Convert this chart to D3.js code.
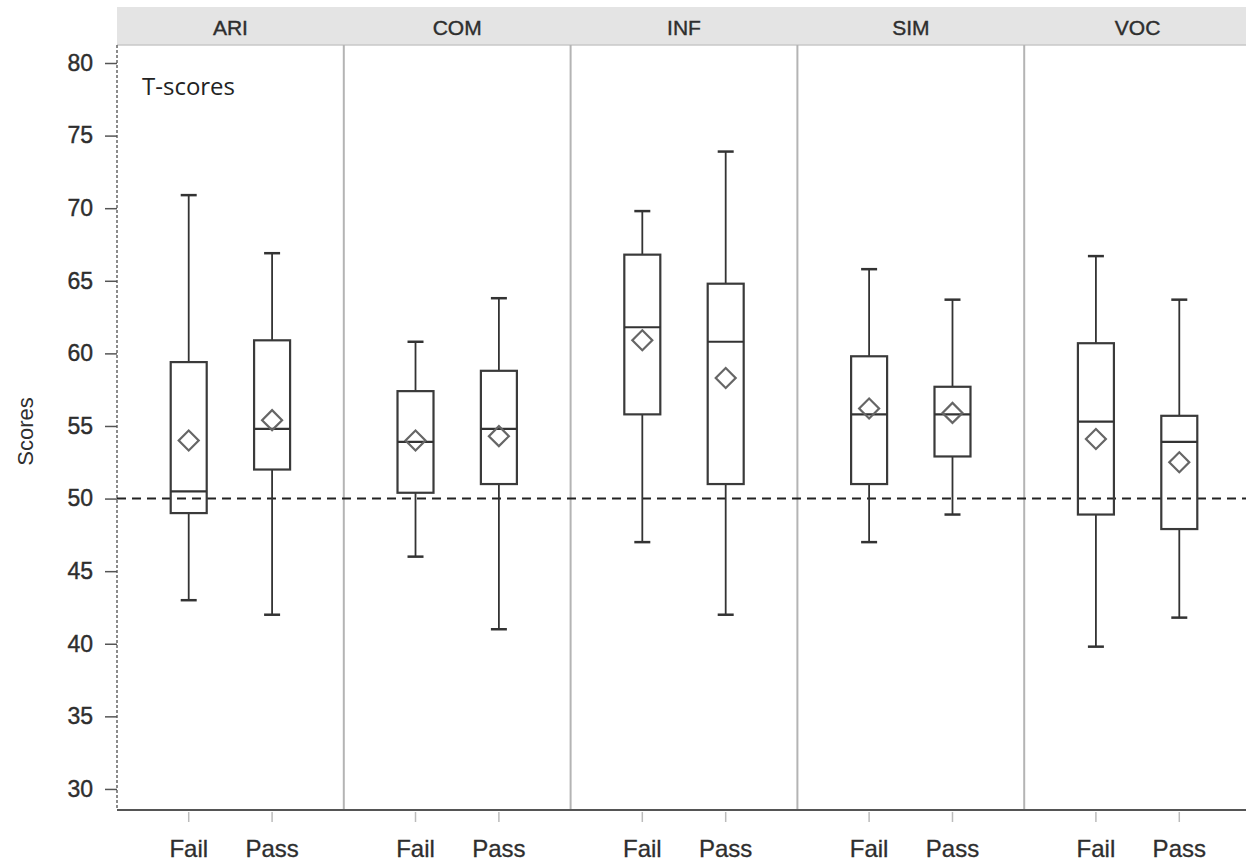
<!DOCTYPE html>
<html>
<head>
<meta charset="utf-8">
<script src="https://cdn.jsdelivr.net/npm/d3@7"></script>
<style>
  body { margin: 0; background: #fff; }
  svg { display: block; }
</style>
</head>
<body>
<div class="chart"></div>
<script>
// subtests and groups
const panels = ["ARI", "COM", "INF", "SIM", "VOC"];
const groups = ["Fail", "Pass"];

// box statistics, in panel order, Fail then Pass
const whiskerLow  = [43, 42,   46, 41,   47, 42,   47, 48.9,  39.8, 41.8];
const q1          = [49, 52,   50.4, 51, 55.8, 51, 51, 52.9,  48.9, 47.9];
const medians     = [50.5, 54.8, 53.9, 54.8, 61.8, 60.8, 55.8, 55.8, 55.3, 53.9];
const q3          = [59.4, 60.9, 57.4, 58.8, 66.8, 64.8, 59.8, 57.7, 60.7, 55.7];
const whiskerHigh = [70.9, 66.9, 60.8, 63.8, 69.8, 73.9, 65.8, 63.7, 66.7, 63.7];
const means       = [54, 55.4, 54, 54.3, 60.9, 58.3, 56.2, 55.9, 54.1, 52.5];

const yTicks = [30, 35, 40, 45, 50, 55, 60, 65, 70, 75, 80];
const refLine = 50;

const boxes = [];
panels.forEach((p, i) => {
    groups.forEach((g, j) => {
        const k = i * 2 + j;
        boxes.push({
            panel: p, group: g,
            lo: whiskerLow[k], q1: q1[k], med: medians[k],
            q3: q3[k], hi: whiskerHigh[k], mean: means[k]
        });
    });
});

const width = 1246, height = 865;
const margin = { top: 45, left: 117, bottom: 55 };
const plotRight = 1251;

const svg = d3.select(".chart").append("svg")
    .attr("width", width)
    .attr("height", height);

const x = d3.scaleBand()
    .domain(panels)
    .range([margin.left, plotRight]);

const xIn = d3.scalePoint()
    .domain(groups)
    .range([0, x.bandwidth()])
    .padding(0.86);

const y = d3.scaleLinear()
    .domain([28.55, 81.24])
    .range([height - margin.bottom, margin.top]);

const textColor = "#2e2e2e";
const font = "'Liberation Sans', Arial, sans-serif";

// header strip
svg.append("rect")
    .attr("x", margin.left)
    .attr("y", 7)
    .attr("width", plotRight - margin.left)
    .attr("height", margin.top - 7)
    .attr("fill", "#e4e4e4");

svg.append("line")
    .attr("x1", margin.left).attr("x2", plotRight)
    .attr("y1", margin.top).attr("y2", margin.top)
    .attr("stroke", "#c8c8c8").attr("stroke-width", 1.5);

svg.selectAll(".hdr")
    .data(panels)
    .join("text")
    .attr("class", "hdr")
    .attr("x", d => x(d) + x.bandwidth() / 2)
    .attr("y", 35)
    .attr("text-anchor", "middle")
    .style("font-family", font)
    .style("font-size", "21px")
    .attr("fill", textColor)
    .attr("stroke", textColor)
    .attr("stroke-width", 0.4)
    .text(d => d);

// panel separators
svg.selectAll(".sep")
    .data(panels.slice(1))
    .join("line")
    .attr("class", "sep")
    .attr("x1", d => x(d)).attr("x2", d => x(d))
    .attr("y1", margin.top).attr("y2", y.range()[0])
    .attr("stroke", "#b4b4b4")
    .attr("stroke-width", 2);

// y axis
const yAxis = svg.append("g")
    .attr("transform", `translate(${margin.left},0)`)
    .call(d3.axisLeft(y).tickValues(yTicks).tickSize(12).tickPadding(12).tickSizeOuter(0));

yAxis.select(".domain")
    .attr("d", `M0,${margin.top}V${y.range()[0]}`)
    .attr("stroke", "#666")
    .attr("stroke-width", 1.5)
    .attr("stroke-dasharray", "3,2");
yAxis.selectAll(".tick line").attr("stroke", "#555").attr("stroke-width", 1.5);
yAxis.selectAll(".tick text")
    .style("font-family", font)
    .style("font-size", "23px")
    .attr("fill", textColor)
    .attr("stroke", textColor)
    .attr("stroke-width", 0.4);

svg.append("text")
    .attr("transform", `translate(33,${(margin.top + y.range()[0]) / 2 + 4}) rotate(-90)`)
    .attr("text-anchor", "middle")
    .style("font-family", font)
    .style("font-size", "22px")
    .attr("fill", textColor)
    .text("Scores");

// bottom axis line
svg.append("line")
    .attr("x1", margin.left).attr("x2", plotRight)
    .attr("y1", y.range()[0]).attr("y2", y.range()[0])
    .attr("stroke", "#555")
    .attr("stroke-width", 2);

// x ticks and labels
const xTicks = svg.selectAll(".xt")
    .data(boxes)
    .join("g")
    .attr("class", "xt")
    .attr("transform", d => `translate(${x(d.panel) + xIn(d.group)},${y.range()[0]})`);

xTicks.append("line")
    .attr("y1", 2).attr("y2", 12)
    .attr("stroke", "#bbb")
    .attr("stroke-width", 1.5);

xTicks.append("text")
    .attr("y", 47)
    .attr("text-anchor", "middle")
    .style("font-family", font)
    .style("font-size", "24px")
    .attr("fill", textColor)
    .attr("stroke", textColor)
    .attr("stroke-width", 0.3)
    .text(d => d.group);

// label in first panel
svg.append("text")
    .attr("x", 142)
    .attr("y", 95)
    .style("font-family", "'Open Sans', sans-serif")
    .style("font-size", "24px")
    .attr("fill", "#222")
    .text("T-scores");

// reference line
svg.append("line")
    .attr("x1", margin.left).attr("x2", plotRight)
    .attr("y1", y(refLine)).attr("y2", y(refLine))
    .attr("stroke", "#222")
    .attr("stroke-width", 2)
    .attr("stroke-dasharray", "9,6");

// boxes
const boxW = 36, capW = 16;
const bx = svg.selectAll(".box")
    .data(boxes)
    .join("g")
    .attr("class", "box")
    .attr("transform", d => `translate(${x(d.panel) + xIn(d.group)},0)`);

bx.append("line")
    .attr("y1", d => y(d.q3)).attr("y2", d => y(d.hi))
    .attr("stroke", "#333").attr("stroke-width", 1.8);
bx.append("line")
    .attr("y1", d => y(d.q1)).attr("y2", d => y(d.lo))
    .attr("stroke", "#333").attr("stroke-width", 1.8);
bx.append("line")
    .attr("x1", -capW / 2).attr("x2", capW / 2)
    .attr("y1", d => y(d.hi)).attr("y2", d => y(d.hi))
    .attr("stroke", "#333").attr("stroke-width", 2.5);
bx.append("line")
    .attr("x1", -capW / 2).attr("x2", capW / 2)
    .attr("y1", d => y(d.lo)).attr("y2", d => y(d.lo))
    .attr("stroke", "#333").attr("stroke-width", 2.5);

bx.append("rect")
    .attr("x", -boxW / 2)
    .attr("width", boxW)
    .attr("y", d => y(d.q3))
    .attr("height", d => y(d.q1) - y(d.q3))
    .attr("fill", "none")
    .attr("stroke", "#3a3a3a")
    .attr("stroke-width", 2.2);

bx.append("line")
    .attr("x1", -boxW / 2).attr("x2", boxW / 2)
    .attr("y1", d => y(d.med)).attr("y2", d => y(d.med))
    .attr("stroke", "#333").attr("stroke-width", 2.2);

const diamond = d3.symbol().type(d3.symbolSquare).size(200);
bx.append("path")
    .attr("d", diamond())
    .attr("transform", d => `translate(0,${y(d.mean)}) rotate(45)`)
    .attr("fill", "none")
    .attr("stroke", "#666")
    .attr("stroke-width", 2.2);
</script>
</body>
</html>
